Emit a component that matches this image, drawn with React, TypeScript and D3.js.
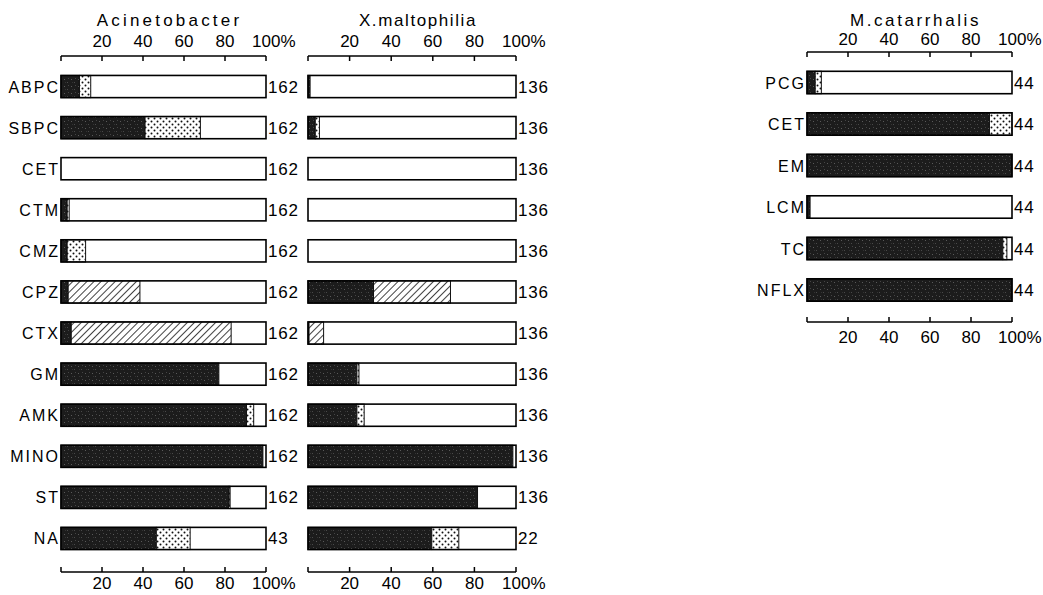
import React from "react";
import * as d3 from "d3";

// ---------- data ----------
const acinetoDrugs = ["ABPC", "SBPC", "CET", "CTM", "CMZ", "CPZ", "CTX", "GM", "AMK", "MINO", "ST", "NA"];
const acinetoBlack = [9, 41, 0, 3, 3, 3.5, 5, 77, 90.5, 98.5, 82, 46.5];
const acinetoDotted = [5.5, 27, 0, 1, 9, 0, 0, 0, 3.5, 0, 0.5, 16.5];
const acinetoHatched = [0, 0, 0, 0, 0, 35, 78, 0, 0, 0, 0, 0];
const acinetoN = [162, 162, 162, 162, 162, 162, 162, 162, 162, 162, 162, 43];

const xmaltoBlack = [1, 3.5, 0, 0, 0, 31.5, 0.5, 23.5, 23.5, 98.5, 81.5, 59.5];
const xmaltoDotted = [0, 2, 0, 0, 0, 0, 0, 1, 3.5, 0, 0, 13];
const xmaltoHatched = [0, 0, 0, 0, 0, 37, 7, 0, 0, 0, 0, 0];
const xmaltoN = [136, 136, 136, 136, 136, 136, 136, 136, 136, 136, 136, 22];

const mcatDrugs = ["PCG", "CET", "EM", "LCM", "TC", "NFLX"];
const mcatBlack = [4, 89, 100, 1.5, 95.5, 100];
const mcatDotted = [3, 11, 0, 0, 2, 0];
const mcatHatched = [0, 0, 0, 0, 0, 0];
const mcatN = [44, 44, 44, 44, 44, 44];

const tickValues = [0, 20, 40, 60, 80, 100];
const tickLabels = ["", "20", "40", "60", "80", "100"];

const FONT = "'Liberation Sans', Arial, sans-serif";

type PanelProps = {
  title: string;
  titleSpacing: number;
  drugs: string[];
  showDrugs: boolean;
  black: number[];
  dotted: number[];
  hatched: number[];
  n: number[];
  xRange: [number, number];
  yRange: [number, number];
  titleY: number;
  topLabelY: number;
  topAxisY: number;
  bottomAxisY: number;
  bottomLabelY: number;
};

function Panel(p: PanelProps) {
  const x = d3.scaleLinear().domain([0, 100]).range(p.xRange);
  const y = d3
    .scaleBand<string>()
    .domain(p.drugs)
    .range(p.yRange)
    .paddingInner(0.46)
    .paddingOuter(0.23);
  const bw = y.bandwidth();
  const cx = (p.xRange[0] + p.xRange[1]) / 2;

  const tickText = (t: number, i: number, yy: number) =>
    tickLabels[i] ? (
      <text
        x={t === 100 ? x(t) - 14 : x(t)}
        y={yy}
        textAnchor={t === 100 ? "start" : "middle"}
        fontFamily={FONT}
        fontSize={17}
      >
        {tickLabels[i]}
        {t === 100 ? "%" : ""}
      </text>
    ) : null;

  return (
    <g>
      <text
        x={cx + 6}
        y={p.titleY}
        textAnchor="middle"
        fontFamily={FONT}
        fontSize={17}
        letterSpacing={p.titleSpacing}
      >
        {p.title}
      </text>
      {/* top axis */}
      <line x1={x(0)} x2={x(100)} y1={p.topAxisY} y2={p.topAxisY} stroke="#000" strokeWidth={1.5} />
      {tickValues.map((t, i) => (
        <g key={"tt" + i}>
          <line x1={x(t)} x2={x(t)} y1={p.topAxisY} y2={p.topAxisY + 5} stroke="#000" strokeWidth={1.5} />
          {tickText(t, i, p.topLabelY)}
        </g>
      ))}
      {/* bottom axis */}
      <line x1={x(0)} x2={x(100)} y1={p.bottomAxisY} y2={p.bottomAxisY} stroke="#000" strokeWidth={1.5} />
      {tickValues.map((t, i) => (
        <g key={"bt" + i}>
          <line x1={x(t)} x2={x(t)} y1={p.bottomAxisY - 5} y2={p.bottomAxisY} stroke="#000" strokeWidth={1.5} />
          {tickText(t, i, p.bottomLabelY)}
        </g>
      ))}
      {/* bars */}
      {p.drugs.map((d, i) => {
        const y0 = y(d) as number;
        const b = p.black[i];
        const dt = p.dotted[i];
        const h = p.hatched[i];
        return (
          <g key={d}>
            <rect x={x(0)} y={y0} width={x(100) - x(0)} height={bw} fill="#fff" />
            {b > 0 && (
              <rect x={x(0)} y={y0} width={x(b) - x(0)} height={bw} fill="url(#blk)" stroke="#111" strokeWidth={1} />
            )}
            {dt > 0 && (
              <rect x={x(b)} y={y0} width={x(b + dt) - x(b)} height={bw} fill="url(#dots)" stroke="#111" strokeWidth={1} />
            )}
            {h > 0 && (
              <rect
                x={x(b + dt)}
                y={y0}
                width={x(b + dt + h) - x(b + dt)}
                height={bw}
                fill="url(#hatch)"
                stroke="#111"
                strokeWidth={1}
              />
            )}
            <rect
              x={x(0)}
              y={y0}
              width={x(100) - x(0)}
              height={bw}
              fill="none"
              stroke="#000"
              strokeWidth={1.6}
            />
            {p.showDrugs && (
              <text
                x={x(0) - 1}
                y={y0 + bw / 2 + 6}
                textAnchor="end"
                fontFamily={FONT}
                fontSize={16}
                letterSpacing={2}
              >
                {d}
              </text>
            )}
            <text
              x={x(100) + 2}
              y={y0 + bw / 2 + 6}
              fontFamily={FONT}
              fontSize={17}
              letterSpacing={0.8}
            >
              {p.n[i]}
            </text>
          </g>
        );
      })}
    </g>
  );
}

export default function App() {
  return (
    <svg
      width={1043}
      height={595}
      viewBox="0 0 1043 595"
      style={{ position: "absolute", left: 0, top: 0, background: "#fff" }}
    >
      <defs>
        <pattern id="blk" width={7} height={7} patternUnits="userSpaceOnUse">
          <rect width={7} height={7} fill="#1c1c1c" />
          <rect x={1} y={2} width={1} height={1} fill="#5a5a5a" />
          <rect x={4} y={5} width={1} height={1} fill="#4a4a4a" />
          <rect x={5} y={1} width={1} height={1} fill="#444" />
          <rect x={2} y={5} width={1} height={1} fill="#333" />
        </pattern>
        <pattern id="dots" width={6} height={6} patternUnits="userSpaceOnUse">
          <rect width={6} height={6} fill="#fff" />
          <circle cx={1.5} cy={1.5} r={1} fill="#111" />
          <circle cx={4.5} cy={4.5} r={1} fill="#111" />
        </pattern>
        <pattern
          id="hatch"
          width={5}
          height={5}
          patternUnits="userSpaceOnUse"
          patternTransform="rotate(45)"
        >
          <rect width={5} height={5} fill="#fff" />
          <line x1={0} y1={0} x2={0} y2={5} stroke="#111" strokeWidth={1.6} />
        </pattern>
      </defs>
      <Panel
        title="Acinetobacter"
        titleSpacing={3.2}
        drugs={acinetoDrugs}
        showDrugs={true}
        black={acinetoBlack}
        dotted={acinetoDotted}
        hatched={acinetoHatched}
        n={acinetoN}
        xRange={[61, 266]}
        yRange={[66, 559]}
        titleY={26}
        topLabelY={47}
        topAxisY={56}
        bottomAxisY={572}
        bottomLabelY={589}
      />
      <Panel
        title="X.maltophilia"
        titleSpacing={1.6}
        drugs={acinetoDrugs}
        showDrugs={false}
        black={xmaltoBlack}
        dotted={xmaltoDotted}
        hatched={xmaltoHatched}
        n={xmaltoN}
        xRange={[308, 516]}
        yRange={[66, 559]}
        titleY={26}
        topLabelY={47}
        topAxisY={56}
        bottomAxisY={572}
        bottomLabelY={589}
      />
      <Panel
        title="M.catarrhalis"
        titleSpacing={2.6}
        drugs={mcatDrugs}
        showDrugs={true}
        black={mcatBlack}
        dotted={mcatDotted}
        hatched={mcatHatched}
        n={mcatN}
        xRange={[807, 1012]}
        yRange={[61.75, 310.75]}
        titleY={26}
        topLabelY={45}
        topAxisY={52}
        bottomAxisY={322}
        bottomLabelY={343}
      />
    </svg>
  );
}
